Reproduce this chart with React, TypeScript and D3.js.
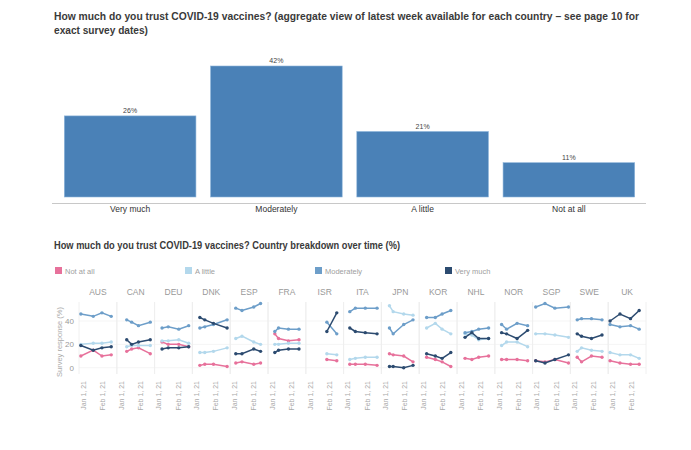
import * as d3 from "d3";

// aggregate bar chart
const barCategories = ["Very much", "Moderately", "A little", "Not at all"];
const barValues = [26, 42, 21, 11];

// country breakdown over time
const countries = ["AUS", "CAN", "DEU", "DNK", "ESP", "FRA", "ISR", "ITA", "JPN", "KOR", "NHL", "NOR", "SGP", "SWE", "UK"];

const surveyDates: string[][] = [
  ["2020-12-28", "2021-01-17", "2021-01-31", "2021-02-15"],
  ["2021-01-10", "2021-01-18", "2021-01-29", "2021-02-17"],
  ["2021-01-06", "2021-01-16", "2021-02-02", "2021-02-18"],
  ["2021-01-06", "2021-01-14", "2021-01-28", "2021-02-19"],
  ["2021-01-03", "2021-01-13", "2021-02-01", "2021-02-12"],
  ["2021-01-05", "2021-01-11", "2021-01-27", "2021-02-13"],
  ["2021-01-28", "2021-02-13"],
  ["2021-01-04", "2021-01-13", "2021-01-29", "2021-02-17"],
  ["2021-01-07", "2021-01-13", "2021-01-30", "2021-02-14"],
  ["2021-01-06", "2021-01-20", "2021-01-31", "2021-02-14"],
  ["2021-01-07", "2021-01-18", "2021-01-29", "2021-02-14"],
  ["2021-01-05", "2021-01-13", "2021-01-30", "2021-02-16"],
  ["2020-12-30", "2021-01-14", "2021-01-30", "2021-02-21"],
  ["2021-01-05", "2021-01-12", "2021-01-28", "2021-02-14"],
  ["2020-12-28", "2021-01-13", "2021-01-30", "2021-02-13"],
];

const notAtAll: number[][] = [
  [10, 15, 10, 11], [14, 16, 17, 12], [22, 20, 20, 18], [2, 3, 3, 1], [4, 5, 3, 4],
  [29, 25, 23, 24], [7, 6], [3, 3, 3, 2], [12, 11, 10, 5], [9, 7, 5, 1],
  [8, 7, 9, 10], [7, 7, 7, 6], [6, 5, 7, 4], [9, 5, 10, 9], [6, 4, 3, 3],
];
const aLittle: number[][] = [
  [20, 21, 21, 22], [18, 19, 19, 19], [23, 23, 24, 21], [13, 13, 14, 17], [25, 27, 22, 20],
  [20, 20, 21, 21], [12, 11], [7, 8, 9, 9], [53, 48, 46, 45], [34, 38, 33, 29],
  [29, 28, 24, 25], [19, 22, 22, 18], [29, 29, 28, 26], [14, 17, 15, 14], [13, 11, 11, 8],
];
const moderately: number[][] = [
  [46, 44, 47, 44], [41, 39, 36, 39], [34, 35, 33, 36], [34, 35, 37, 41], [51, 49, 52, 55],
  [31, 34, 33, 33], [39, 29], [48, 51, 51, 51], [34, 29, 37, 41], [43, 43, 46, 49],
  [30, 31, 33, 34], [37, 33, 38, 36], [52, 55, 51, 52], [41, 42, 42, 41], [37, 35, 36, 33],
];
const veryMuch: number[][] = [
  [19, 15, 17, 18], [24, 20, 22, 24], [16, 17, 17, 18], [43, 41, 38, 34], [12, 12, 16, 14],
  [13, 15, 16, 16], [31, 47], [34, 31, 30, 29], [1, 1, 0, 2], [12, 10, 8, 13],
  [26, 30, 25, 25], [30, 29, 25, 32], [6, 4, 7, 11], [29, 27, 25, 28], [40, 46, 42, 49],
];

const seriesNames = ["Not at all", "A little", "Moderately", "Very much"];
const seriesColors = ["#e7719b", "#b3d8ec", "#6d9ec9", "#2c4b70"];
const seriesData = [notAtAll, aLittle, moderately, veryMuch];

const yTicks = [0, 20, 40];
const dateTicks = ["2021-01-01", "2021-02-01"];
const dateTickLabels = ["Jan 1, 21", "Feb 1, 21"];

const parseDate = d3.timeParse("%Y-%m-%d");
const font = "'Liberation Sans', Arial, sans-serif";

export default function App() {
  const width = 691;
  const height = 450;

  // bar chart scales
  const xBar = d3.scaleBand<string>().domain(barCategories).range([57, 642]).paddingInner(0.1).paddingOuter(0.05);
  const yBar = d3.scaleLinear().domain([0, 42]).range([197, 66]);

  // small multiples
  const panelLeft = 79;
  const panelW = 37.8;
  const panelTop = 302;
  const panelBottom = 374;
  const xPanel = d3
    .scaleTime()
    .domain([parseDate("2020-12-25")!, parseDate("2021-02-24")!])
    .range([0, panelW]);
  const yPanel = d3.scaleLinear().domain([0, 40]).range([367.7, 321]);

  return (
    <svg
      width={width}
      height={height}
      style={{ position: "absolute", left: 0, top: 0, background: "#fff" }}
      fontFamily={font}
    >
      {/* titles */}
      <text x={54} y={20} fontSize={10.5} fontWeight="bold" fill="#3a3a3a" textLength={585} lengthAdjust="spacingAndGlyphs">
        How much do you trust COVID-19 vaccines? (aggregate view of latest week available for each country – see page 10 for
      </text>
      <text x={54} y={34} fontSize={10.5} fontWeight="bold" fill="#3a3a3a" textLength={94} lengthAdjust="spacingAndGlyphs">
        exact survey dates)
      </text>

      {/* bars */}
      {barCategories.map((c, i) => (
        <g key={c}>
          <rect
            x={xBar(c)}
            y={yBar(barValues[i])}
            width={xBar.bandwidth()}
            height={yBar(0) - yBar(barValues[i])}
            fill="#4a81b7"
            stroke="#8db4da"
            strokeWidth={0.6}
          />
          <text x={xBar(c)! + xBar.bandwidth() / 2} y={yBar(barValues[i]) - 3} fontSize={7} fill="#444" textAnchor="middle">
            {barValues[i]}%
          </text>
          <text x={xBar(c)! + xBar.bandwidth() / 2} y={212} fontSize={8.5} fill="#333" textAnchor="middle">
            {c}
          </text>
        </g>
      ))}
      <line x1={52} x2={646} y1={203.5} y2={203.5} stroke="#c8c8c8" strokeWidth={1} />

      {/* second title */}
      <text x={54} y={249} fontSize={10} fontWeight="bold" fill="#3a3a3a" textLength={346} lengthAdjust="spacingAndGlyphs">
        How much do you trust COVID-19 vaccines? Country breakdown over time (%)
      </text>

      {/* legend */}
      {seriesNames.map((s, i) => (
        <g key={s} transform={`translate(${55 + i * 130},267)`}>
          <rect width={7} height={7} fill={seriesColors[i]} />
          <text x={10} y={6.5} fontSize={7.5} fill="#a0a0a0">
            {s}
          </text>
        </g>
      ))}

      {/* y axis */}
      <text
        transform={`translate(62,${(panelTop + panelBottom) / 2 + 4}) rotate(-90)`}
        fontSize={7.5}
        fill="#aaa"
        textAnchor="middle"
      >
        Survey response (%)
      </text>
      {yTicks.map((t) => (
        <text key={t} x={74} y={yPanel(t)} dy="0.35em" fontSize={8} fill="#999" textAnchor="end">
          {t}
        </text>
      ))}

      {/* panels */}
      {countries.map((c, ci) => {
        const x0 = panelLeft + ci * panelW;
        const dates = surveyDates[ci].map((d) => parseDate(d)!);
        const line = d3
          .line<number>()
          .x((_v, i) => xPanel(dates[i]))
          .y((v) => yPanel(v));
        return (
          <g key={c} transform={`translate(${x0},0)`}>
            {yTicks.map((t) => (
              <line key={t} x1={0} x2={panelW} y1={yPanel(t)} y2={yPanel(t)} stroke="#f2f2f2" strokeWidth={0.8} />
            ))}
            <line x1={0} x2={0} y1={panelTop} y2={panelBottom} stroke="#ececec" strokeWidth={0.8} />
            <line x1={panelW} x2={panelW} y1={panelTop} y2={panelBottom} stroke="#ececec" strokeWidth={0.8} />
            <text x={panelW / 2} y={295} fontSize={8.5} fill="#999" textAnchor="middle">
              {c}
            </text>
            {seriesData.map((sd, si) => (
              <g key={si}>
                <path d={line(sd[ci]) ?? ""} fill="none" stroke={seriesColors[si]} strokeWidth={1.5} />
                {sd[ci].map((v, i) => (
                  <circle key={i} cx={xPanel(dates[i])} cy={yPanel(v)} r={1.7} fill={seriesColors[si]} />
                ))}
              </g>
            ))}
            {dateTicks.map((d, i) => (
              <text
                key={d}
                transform={`translate(${xPanel(parseDate(d)!)},381) rotate(-90)`}
                dy="0.35em"
                fontSize={7}
                fill="#aaa"
                textAnchor="end"
              >
                {dateTickLabels[i]}
              </text>
            ))}
          </g>
        );
      })}
    </svg>
  );
}
